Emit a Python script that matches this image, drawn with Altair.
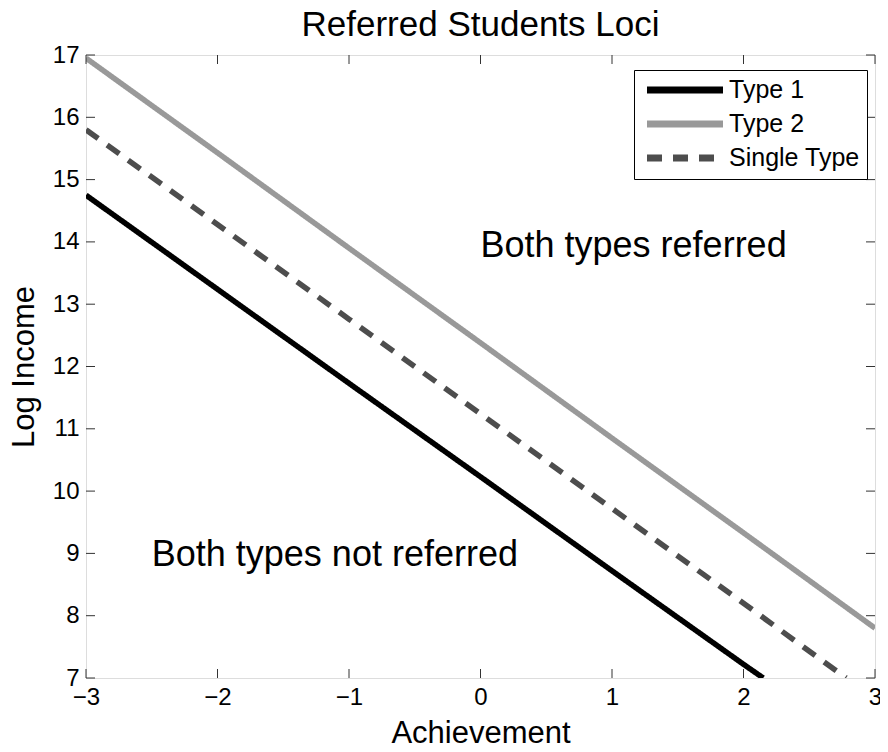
import altair as alt
import pandas as pd

FONT = "Liberation Sans"

series_names = ["Type 1", "Type 2", "Single Type"]

# Type 1 (solid black)
t1_x = [-3, -2, -1, 0, 1, 2, 2.15]
t1_y = [14.75, 13.24, 11.73, 10.23, 8.72, 7.22, 7.0]
# Type 2 (solid gray)
t2_x = [-3, -2, -1, 0, 1, 2, 3]
t2_y = [16.95, 15.43, 13.90, 12.38, 10.85, 9.33, 7.80]
# Single Type (dashed)
st_x = [-3, -2, -1, 0, 1, 2, 2.78]
st_y = [15.80, 14.28, 12.76, 11.24, 9.72, 8.20, 7.0]

x_ticks = [-3, -2, -1, 0, 1, 2, 3]
y_ticks = [7, 8, 9, 10, 11, 12, 13, 14, 15, 16, 17]

ann_text = ["Both types referred", "Both types not referred"]
ann_x = [0.0, -2.5]
ann_y = [13.76, 8.8]

rows = []
for name, xs_, ys_ in [("Type 1", t1_x, t1_y), ("Type 2", t2_x, t2_y), ("Single Type", st_x, st_y)]:
    for i, (a, b) in enumerate(zip(xs_, ys_)):
        rows.append({"series": name, "x": a, "y": b, "i": i})
df = pd.DataFrame(rows)

W, H = 789, 623
xs = alt.Scale(domain=[-3, 3], nice=False, zero=False)
ys = alt.Scale(domain=[7, 17], nice=False, zero=False)

x_axis = alt.Axis(title="Achievement", values=x_ticks, tickSize=0, grid=False, domain=False,
                  labelFont=FONT, labelFontSize=24, labelColor="black", labelPadding=7,
                  titleFont=FONT, titleFontSize=31, titleFontWeight="normal", titleColor="black",
                  titlePadding=9, labelFlush=False)
y_axis = alt.Axis(title="Log Income", values=y_ticks, tickSize=0, grid=False, domain=False,
                  labelFont=FONT, labelFontSize=24, labelColor="black", labelPadding=7,
                  titleFont=FONT, titleFontSize=31, titleFontWeight="normal", titleColor="black",
                  titlePadding=12, labelFlush=False)

X = alt.X("x:Q", scale=xs, axis=x_axis)
Y = alt.Y("y:Q", scale=ys, axis=y_axis)

legend = alt.Legend(orient="none", legendX=548, legendY=15, title=None,
                    strokeColor="black", fillColor="white", padding=7, cornerRadius=0,
                    symbolType="M-4,0H4", symbolSize=361, symbolStrokeWidth=7,
                    symbolOffset=31, labelOffset=31, rowPadding=6,
                    labelFont=FONT, labelFontSize=25, labelColor="black")

lines = alt.Chart(df).mark_line(strokeWidth=5.5, clip=True, strokeCap="butt").encode(
    x=X, y=Y,
    color=alt.Color("series:N", scale=alt.Scale(domain=series_names,
                                                range=["#000000", "#999999", "#4d4d4d"]),
                    legend=legend),
    strokeDash=alt.StrokeDash("series:N", scale=alt.Scale(domain=series_names,
                                                          range=[[1, 0], [1, 0], [15, 11]]),
                              legend=legend),
    order="i:Q",
)

ann_df = pd.DataFrame({"x": ann_x, "y": ann_y, "text": ann_text})
ann = alt.Chart(ann_df).mark_text(align="left", baseline="alphabetic", font=FONT,
                                  fontSize=36, color="black").encode(x=X, y=Y, text="text:N")

xt_df = pd.DataFrame({"x": x_ticks})
yt_df = pd.DataFrame({"y": y_ticks})
tick_color = "#333333"
xb = alt.Chart(xt_df).mark_rule(color=tick_color, strokeWidth=1).encode(
    x=X, y=alt.value(H), y2=alt.value(H - 9))
xtp = alt.Chart(xt_df).mark_rule(color=tick_color, strokeWidth=1).encode(
    x=X, y=alt.value(0), y2=alt.value(9))
yl = alt.Chart(yt_df).mark_rule(color=tick_color, strokeWidth=1).encode(
    y=Y, x=alt.value(0), x2=alt.value(9))
yr = alt.Chart(yt_df).mark_rule(color=tick_color, strokeWidth=1).encode(
    y=Y, x=alt.value(W), x2=alt.value(W - 9))

chart = alt.layer(lines, ann, xb, xtp, yl, yr).properties(
    width=W, height=H,
    title=alt.TitleParams("Referred Students Loci", font=FONT, fontSize=35, fontWeight="normal",
                          color="black", anchor="middle", offset=0),
    autosize=alt.AutoSizeParams(type="none"),
    padding={"left": 78, "top": 47, "right": 5, "bottom": 66},
).configure_view(stroke="#333333", strokeWidth=1).configure(background="white")

chart.save("out.html", embed_options={"renderer": "svg", "actions": False})
